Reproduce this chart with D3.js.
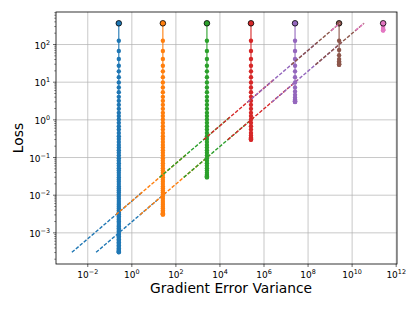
<!DOCTYPE html>
<html>
<head>
<meta charset="utf-8">
<script src="https://cdn.jsdelivr.net/npm/d3@7"></script>
<style>
  body { margin: 0; background: #fff; }
  svg { display: block; font-family: "DejaVu Sans", sans-serif; }
</style>
</head>
<body>
<svg width="415" height="311"></svg>
<script>
// gradient error variance of each run
const variances = [0.27, 27, 2.7e3, 2.7e5, 2.7e7, 2.7e9, 2.7e11];
const colors = ['#1f77b4', '#ff7f0e', '#2ca02c', '#d62728', '#9467bd', '#8c564b', '#e377c2'];
const initialLoss = 355;

// loss per iteration
const lossBlue = [122, 65.2, 39.9, 26.5, 18.8, 13.2, 9.57, 7.05, 5.28, 3.96, 3.10, 2.43, 1.90, 1.49, 1.22,
  0.993, 0.807, 0.661, 0.537, 0.437, 0.355, 0.302, 0.251, 0.209, 0.178, 0.151, 0.129, 0.110, 0.0933, 0.0794,
  0.0684, 0.0589, 0.0507, 0.0437, 0.0380, 0.0331, 0.0288, 0.0251, 0.0219, 0.0191, 0.0166, 0.0146, 0.0129,
  0.0114, 0.0100, 0.00881, 0.00776, 0.00684, 0.00603, 0.00537, 0.00479, 0.00427, 0.00380, 0.00339, 0.00302,
  0.00269, 0.00240, 0.00216, 0.00195, 0.00176, 0.00158, 0.00143, 0.00129, 0.00116, 0.00105, 9.55e-4, 8.71e-4,
  7.94e-4, 7.24e-4, 6.61e-4, 6.03e-4, 5.50e-4, 5.01e-4, 4.57e-4, 4.17e-4, 3.80e-4, 3.47e-4, 3.24e-4, 3.09e-4,
  3.02e-4, 2.95e-4];
const lossOrange = [122, 65.2, 39.9, 26.5, 18.8, 13.2, 9.57, 7.05, 5.28, 3.96, 3.10, 2.43, 1.90, 1.49, 1.22,
  0.993, 0.807, 0.661, 0.537, 0.437, 0.355, 0.302, 0.251, 0.209, 0.178, 0.151, 0.129, 0.110, 0.0933, 0.0794,
  0.0684, 0.0589, 0.0507, 0.0437, 0.0380, 0.0331, 0.0288, 0.0251, 0.0219, 0.0191, 0.0166, 0.0146, 0.0129,
  0.0114, 0.0100, 0.00881, 0.00776, 0.00684, 0.00603, 0.00537, 0.00479, 0.00427, 0.00380, 0.00347, 0.00324,
  0.00309, 0.00302, 0.00295];
const lossGreen = [122, 65.2, 39.9, 26.5, 18.8, 13.2, 9.57, 7.05, 5.28, 3.96, 3.10, 2.43, 1.90, 1.49, 1.22,
  0.993, 0.807, 0.661, 0.537, 0.437, 0.355, 0.302, 0.251, 0.209, 0.178, 0.151, 0.129, 0.110, 0.0933, 0.0794,
  0.0684, 0.0589, 0.0507, 0.0437, 0.0380, 0.0339, 0.0316, 0.0302, 0.0295, 0.0288];
const lossRed = [122, 65.2, 39.9, 26.5, 18.8, 13.2, 9.57, 7.05, 5.28, 3.96, 3.10, 2.43, 1.90, 1.49, 1.22,
  0.993, 0.807, 0.661, 0.537, 0.437, 0.372, 0.331, 0.309, 0.299, 0.292, 0.288];
const lossPurple = [122, 65.2, 39.9, 26.5, 18.8, 13.2, 9.57, 7.05, 5.50, 4.47, 3.80, 3.39, 3.16, 3.02, 2.95, 2.92, 2.88];
const lossBrown = [122, 69.2, 50.1, 39.8, 34.7, 31.6, 29.9, 28.8, 28.5, 28.2];
const lossPink = [282, 251, 240, 234, 232, 229];
const losses = [lossBlue, lossOrange, lossGreen, lossRed, lossPurple, lossBrown, lossPink];

// dashed bound segments, [variance, loss] end points
const upperBound = [
  [[2.0e-3, 2.95e-4], [3.16, 1.17e-2]],
  [[0.200, 2.95e-3], [316, 0.117]],
  [[19.1, 2.88e-2], [3.02e4, 1.15]],
  [[1.91e3, 0.288], [3.02e6, 11.5]],
  [[1.91e5, 2.88], [3.02e8, 115]],
  [[1.82e7, 28.2], [2.88e9, 355]],
  [[1.20e9, 229], [2.88e9, 355]]
];
const lowerBound = [
  [[2.51e-2, 2.95e-4], [39.8, 1.17e-2]],
  [[2.51, 2.95e-3], [3.98e3, 0.117]],
  [[240, 2.88e-2], [3.80e5, 1.15]],
  [[2.40e4, 0.288], [3.80e7, 11.5]],
  [[2.40e6, 2.88], [3.80e9, 115]],
  [[2.29e8, 28.2], [3.63e10, 355]],
  [[1.51e10, 229], [3.63e10, 355]]
];

const xTicks = [1e-2, 1, 1e2, 1e4, 1e6, 1e8, 1e10, 1e12];
const yTicks = [1e-3, 1e-2, 1e-1, 1, 1e1, 1e2];

const margin = { top: 12, right: 18, bottom: 47, left: 56 };
const width = 415 - margin.left - margin.right;
const height = 311 - margin.top - margin.bottom;

const svg = d3.select('svg');
const graph = svg.append('g').attr('transform', `translate(${margin.left}, ${margin.top})`);

const x = d3.scaleLog().domain([Math.pow(10, -3.42), Math.pow(10, 12.06)]).range([0, width]);
const y = d3.scaleLog().domain([Math.pow(10, -3.84), Math.pow(10, 2.85)]).range([height, 0]);

// grid
graph.append('g')
  .attr('transform', `translate(0, ${height})`)
  .call(d3.axisBottom(x).tickValues(xTicks).tickSize(-height).tickFormat(''))
  .call(g => g.select('.domain').remove())
  .selectAll('line').attr('stroke', '#b0b0b0').attr('stroke-width', 0.7);
graph.append('g')
  .call(d3.axisLeft(y).tickValues(yTicks).tickSize(-width).tickFormat(''))
  .call(g => g.select('.domain').remove())
  .selectAll('line').attr('stroke', '#b0b0b0').attr('stroke-width', 0.7);

const sup = d => {
  const e = Math.round(Math.log10(d));
  return e < 0 ? '\u2212' + (-e) : String(e);
};
const powerLabel = (sel) => {
  sel.each(function (d) {
    const t = d3.select(this).text(null);
    t.append('tspan').text('10');
    t.append('tspan').attr('dy', -4).attr('font-size', 6.4).text(sup(d));
  });
};

// x axis
const xAxis = graph.append('g')
  .attr('transform', `translate(0, ${height})`)
  .call(d3.axisBottom(x).tickValues(xTicks).tickSize(3).tickPadding(2));
xAxis.select('.domain').remove();
xAxis.selectAll('line').attr('stroke-width', 0.6);
xAxis.selectAll('text').attr('y', 14).attr('dy', null).attr('font-size', 9)
  .attr('font-family', '"DejaVu Sans", sans-serif').call(powerLabel);

// y axis with minor ticks
const yMinor = [];
for (let e = -4; e <= 2; e++) {
  for (let m = 2; m <= 9; m++) {
    const v = m * Math.pow(10, e);
    if (v > y.domain()[0] && v < y.domain()[1]) yMinor.push(v);
  }
}
graph.append('g')
  .call(d3.axisLeft(y).tickValues(yMinor).tickSize(1.8).tickFormat(''))
  .call(g => g.select('.domain').remove())
  .selectAll('line').attr('stroke-width', 0.45);
const yAxis = graph.append('g')
  .call(d3.axisLeft(y).tickValues(yTicks).tickSize(3).tickPadding(3));
yAxis.select('.domain').remove();
yAxis.selectAll('line').attr('stroke-width', 0.6);
yAxis.selectAll('text').attr('dy', 4).attr('font-size', 9)
  .attr('font-family', '"DejaVu Sans", sans-serif').call(powerLabel);

// series
const plot = graph.append('g');
const line = d3.line().x(d => x(d[0])).y(d => y(d[1]));

losses.forEach((series, k) => {
  const pts = [[variances[k], initialLoss]].concat(series.map(v => [variances[k], v]));
  plot.append('path')
    .attr('d', line(pts))
    .attr('fill', 'none')
    .attr('stroke', colors[k])
    .attr('stroke-width', 1.1);
  plot.selectAll(null)
    .data(series)
    .enter()
    .append('circle')
    .attr('cx', x(variances[k]))
    .attr('cy', d => y(d))
    .attr('r', 2.2)
    .attr('fill', colors[k]);
  [upperBound[k], lowerBound[k]].forEach(seg => {
    plot.append('path')
      .attr('d', line(seg))
      .attr('fill', 'none')
      .attr('stroke', colors[k])
      .attr('stroke-width', 1.4)
      .attr('stroke-dasharray', '3.6,1.6');
  });
  plot.append('circle')
    .attr('cx', x(variances[k]))
    .attr('cy', y(initialLoss))
    .attr('r', 2.8)
    .attr('fill', colors[k])
    .attr('stroke', '#000')
    .attr('stroke-width', 0.8);
});

// frame
graph.append('rect')
  .attr('width', width)
  .attr('height', height)
  .attr('fill', 'none')
  .attr('stroke', '#000')
  .attr('stroke-width', 0.8);

// axis titles
svg.append('text')
  .text('Gradient Error Variance')
  .attr('x', 231)
  .attr('y', 293)
  .attr('text-anchor', 'middle')
  .attr('font-size', 13.8);
svg.append('text')
  .text('Loss')
  .attr('transform', `translate(22.5, ${margin.top + height / 2}) rotate(-90)`)
  .attr('text-anchor', 'middle')
  .attr('font-size', 13.8);
</script>
</body>
</html>
